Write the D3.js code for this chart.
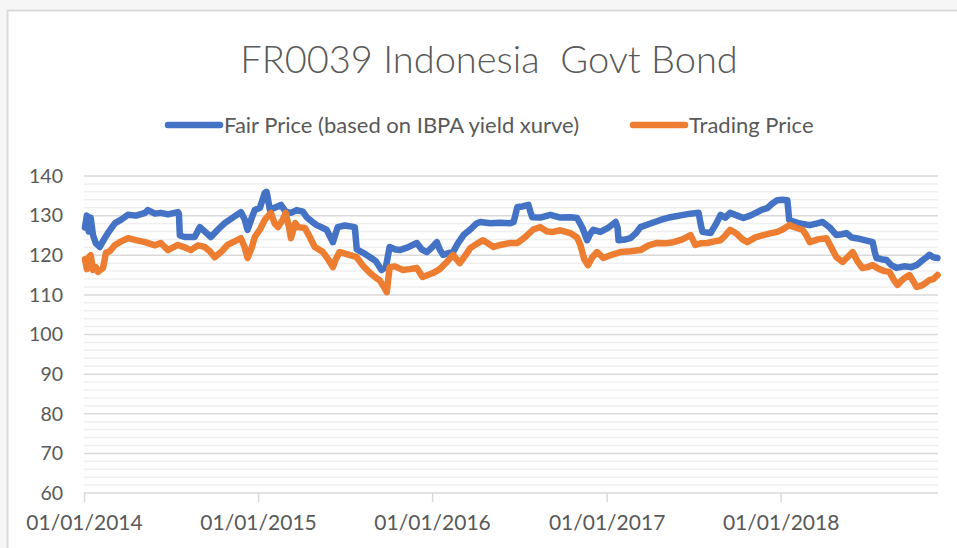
<!DOCTYPE html>
<html>
<head>
<meta charset="utf-8">
<script src="https://cdn.jsdelivr.net/npm/d3@7"></script>
<style>
  html, body { margin: 0; padding: 0; background: #f6f6f6; }
  svg { display: block; }
</style>
</head>
<body>
<div id="chart"></div>
<script>

// values
const fairDates = ["2014-01-03","2014-01-07","2014-01-11","2014-01-15","2014-01-20","2014-01-26","2014-02-03","2014-02-12","2014-02-20","2014-03-07","2014-03-20","2014-04-03","2014-04-20","2014-05-09","2014-05-15","2014-05-30","2014-06-11","2014-06-26","2014-07-17","2014-07-19","2014-07-21","2014-07-31","2014-08-21","2014-09-01","2014-09-11","2014-09-24","2014-10-09","2014-10-23","2014-11-09","2014-11-26","2014-12-04","2014-12-10","2014-12-19","2014-12-25",
  "2015-01-05","2015-01-15","2015-01-19","2015-01-26","2015-02-05","2015-02-18","2015-02-28","2015-03-11","2015-03-23","2015-04-05","2015-04-13","2015-04-24","2015-05-04","2015-05-15","2015-05-25","2015-06-07","2015-06-17","2015-07-02","2015-07-23","2015-07-27","2015-08-11","2015-08-24","2015-09-05","2015-09-17","2015-09-26","2015-10-04","2015-10-15","2015-10-25","2015-11-11","2015-11-30","2015-12-10","2015-12-21",
  "2016-01-01","2016-01-11","2016-01-17","2016-01-24","2016-02-03","2016-02-14","2016-02-24","2016-03-07","2016-03-21","2016-04-03","2016-04-11","2016-05-02","2016-05-23","2016-06-13","2016-06-20","2016-06-28","2016-07-08","2016-07-21","2016-07-25","2016-07-29","2016-08-15","2016-09-05","2016-09-26","2016-10-17","2016-10-31","2016-11-11","2016-11-21","2016-11-28","2016-12-04","2016-12-19",
  "2017-01-05","2017-01-20","2017-01-24","2017-01-26","2017-02-10","2017-02-20","2017-03-03","2017-03-13","2017-04-03","2017-04-24","2017-05-15","2017-06-11","2017-06-26","2017-07-13","2017-07-17","2017-07-21","2017-08-07","2017-08-19","2017-08-28","2017-09-07","2017-09-17","2017-10-02","2017-10-15","2017-10-29","2017-11-13","2017-11-23","2017-12-04","2017-12-14","2017-12-25",
  "2018-01-05","2018-01-15","2018-01-19","2018-02-10","2018-03-03","2018-03-17","2018-03-30","2018-04-14","2018-04-28","2018-05-09","2018-05-19","2018-05-30","2018-06-09","2018-06-26","2018-07-13","2018-07-17","2018-07-21","2018-07-31","2018-08-11","2018-08-21","2018-09-01","2018-09-17","2018-10-02","2018-10-13","2018-10-23","2018-11-03","2018-11-09","2018-11-17","2018-11-26"];
const fairValues = [127,130,126,129.5,125,123,122.1,124,125.6,128.1,129,130.2,130,130.7,131.4,130.5,130.7,130.3,130.9,130.5,125,124.6,124.6,127.1,126,124.6,126.5,128.1,129.5,130.9,129,126.4,129.5,131.4,
  132,135.7,136,131.4,132,132.7,131,130.7,131.4,131,129.6,128.5,127.6,127,126.4,123.3,127.1,127.5,127.1,121.5,120.5,119.5,118.5,116.3,117,122.1,121.5,121.3,122,123.1,121.5,120.8,
  122,123.3,121.5,120.1,120.5,120.8,123,125.1,126.5,128,128.4,128.1,128.2,128.1,128.4,132.2,132.3,132.7,131,129.6,129.5,130.2,129.5,129.6,129.4,127,123.8,125.5,126.4,125.9,
  127,128.4,127,123.8,124,124.3,125.5,127.1,128,128.9,129.6,130.2,130.5,130.7,128,125.9,125.6,128,130.2,129.5,130.7,130,129.4,130,130.9,131.5,131.9,133,133.9,
  134,133.9,128.9,128,127.6,128,128.4,127,125.1,125.3,125.6,124.5,124.3,123.8,123.3,121,119.3,119,118.8,117.5,116.8,117.2,117,117.5,118.5,119.5,120.1,119.5,119.3];

const tradeDates = ["2014-01-03","2014-01-07","2014-01-11","2014-01-15","2014-01-20","2014-01-26","2014-01-30","2014-02-10","2014-02-16","2014-02-24","2014-03-07","2014-03-20","2014-04-03","2014-04-20","2014-05-09","2014-05-30","2014-06-11","2014-06-26","2014-07-17","2014-07-31","2014-08-13","2014-08-28","2014-09-11","2014-09-22","2014-10-02","2014-10-17","2014-10-29","2014-11-13","2014-11-26","2014-12-04","2014-12-10","2014-12-19","2014-12-25",
  "2015-01-05","2015-01-15","2015-01-28","2015-02-05","2015-02-12","2015-02-22","2015-02-28","2015-03-07","2015-03-11","2015-03-20","2015-03-26","2015-04-09","2015-04-20","2015-04-30","2015-05-17","2015-05-28","2015-06-07","2015-06-13","2015-06-21","2015-07-08","2015-07-27","2015-08-08","2015-08-24","2015-09-03","2015-09-13","2015-09-22","2015-09-28","2015-10-04","2015-10-15","2015-10-31","2015-11-15","2015-11-30","2015-12-12","2015-12-23",
  "2016-01-03","2016-01-17","2016-02-01","2016-02-14","2016-02-28","2016-03-11","2016-03-21","2016-04-05","2016-04-17","2016-05-09","2016-05-23","2016-06-13","2016-06-28","2016-07-08","2016-07-19","2016-07-31","2016-08-15","2016-08-29","2016-09-11","2016-09-26","2016-10-17","2016-10-31","2016-11-07","2016-11-15","2016-11-23","2016-12-02","2016-12-12","2016-12-25",
  "2017-01-09","2017-01-30","2017-02-20","2017-03-13","2017-03-30","2017-04-17","2017-05-04","2017-05-21","2017-06-09","2017-06-26","2017-07-06","2017-07-17","2017-07-31","2017-08-15","2017-08-28","2017-09-07","2017-09-17","2017-09-30","2017-10-13","2017-10-23","2017-11-09","2017-11-26","2017-12-10","2017-12-25",
  "2018-01-05","2018-01-19","2018-02-01","2018-02-16","2018-02-24","2018-03-03","2018-03-20","2018-04-07","2018-04-17","2018-04-28","2018-05-11","2018-05-21","2018-06-01","2018-06-11","2018-06-21","2018-07-02","2018-07-13","2018-07-27","2018-08-07","2018-08-17","2018-08-28","2018-09-03","2018-09-15","2018-09-28","2018-10-06","2018-10-13","2018-10-23","2018-11-01","2018-11-09","2018-11-17","2018-11-26"];
const tradeValues = [119,116.5,119.5,120,116.3,117,115.8,116.8,120.6,121,122.6,123.5,124.3,123.8,123.3,122.5,123.1,121.3,122.6,122,121.3,122.5,122.1,121,119.5,121,122.6,123.5,124.3,122,119.3,122,124.6,
  126.5,128.9,130.7,128,127.1,129,130.7,127,124.3,128.1,127.1,126.9,124.5,122.1,120.8,119,117,119,120.8,120.2,119.5,117.5,115.5,114.5,113.7,112,110.7,117,117.2,116.3,116.5,116.8,114.5,115,
  115.5,116.5,118.3,120.1,118,120,121.8,123,123.8,122.1,122.6,123.1,123.1,124,125.1,126.5,127.1,126,125.9,126.3,125.6,124.5,122.6,119,117.5,119.5,120.8,119.3,
  120,120.8,121,121.3,122.5,123.1,123,123.3,124,125.1,122.6,123,123.1,123.5,123.8,125,126.4,125.5,124,123.3,124.5,125.1,125.5,125.9,
  126.5,127.6,127,126.4,125,123.3,124,124.3,122,119.5,118.3,119.5,120.8,118.5,116.8,117,117.5,116.5,116,115.8,113.5,112.5,114,115,113.5,112,112.3,113,113.7,114,115];

const seriesNames = ["Fair Price (based on IBPA yield xurve)", "Trading Price"];
const seriesColors = ["#4472C4", "#ED7D31"];
const yearTicks = ["2014-01-01","2015-01-01","2016-01-01","2017-01-01","2018-01-01"];
const dateEnd = "2018-11-27";

const width = 957, height = 548;
const margin = {top: 176, right: 19, bottom: 55, left: 84};
const font = "Lato, 'Open Sans', sans-serif";
const textColor = "#595959";

const parse = d3.timeParse("%Y-%m-%d");

const svg = d3.select("#chart")
    .append("svg")
    .attr("width", width)
    .attr("height", height);

// chart frame (white card with light border)
svg.append("rect")
    .attr("x", 7.5)
    .attr("y", 10.5)
    .attr("width", width + 10)
    .attr("height", height + 10)
    .attr("fill", "#ffffff")
    .attr("stroke", "#d9d9d9")
    .attr("stroke-width", 2);

let xScale = d3.scaleTime()
    .domain([parse(yearTicks[0]), parse(dateEnd)])
    .range([margin.left, width - margin.right]);

let yScale = d3.scaleLinear()
    .domain([60, 140])
    .range([height - margin.bottom, margin.top]);

// minor gridlines every 2
svg.append("g")
    .selectAll("line")
    .data(d3.range(62, 141, 2).filter(v => v % 10 !== 0))
    .enter()
    .append("line")
    .attr("x1", margin.left)
    .attr("x2", width - margin.right)
    .attr("y1", d => yScale(d))
    .attr("y2", d => yScale(d))
    .attr("stroke", "#efefef")
    .attr("stroke-width", 1.5);

// major gridlines every 10
svg.append("g")
    .selectAll("line")
    .data(d3.range(70, 141, 10))
    .enter()
    .append("line")
    .attr("x1", margin.left)
    .attr("x2", width - margin.right)
    .attr("y1", d => yScale(d))
    .attr("y2", d => yScale(d))
    .attr("stroke", "#d9d9d9")
    .attr("stroke-width", 1.5);

// y axis labels
const yAxis = svg.append("g")
    .attr("transform", `translate(${margin.left}, 0)`)
    .call(d3.axisLeft(yScale).tickValues(d3.range(60, 141, 10)).tickSize(0).tickPadding(21));
yAxis.select(".domain").remove();
yAxis.selectAll("text")
    .attr("font-family", font)
    .attr("font-size", "19.5px")
    .attr("fill", textColor);

// x axis
const xAxis = svg.append("g")
    .attr("transform", `translate(0, ${height - margin.bottom})`)
    .call(d3.axisBottom(xScale)
        .tickValues(yearTicks.map(parse))
        .tickSize(9)
        .tickPadding(13)
        .tickFormat(d3.timeFormat("%d/%m/%Y")));
xAxis.select(".domain")
    .attr("d", `M${margin.left},0H${width - margin.right}`)
    .attr("stroke", "#d9d9d9")
    .attr("stroke-width", 1.5);
xAxis.selectAll(".tick line")
    .attr("stroke", "#d9d9d9")
    .attr("stroke-width", 1.5);
xAxis.selectAll("text")
    .attr("font-family", font)
    .attr("font-size", "21px")
    .attr("fill", textColor);

// series lines
const line = d3.line()
    .x(d => xScale(d.date))
    .y(d => yScale(d.value));

const series = [
    fairDates.map((d, i) => ({date: parse(d), value: fairValues[i]})),
    tradeDates.map((d, i) => ({date: parse(d), value: tradeValues[i]}))
];

svg.append("g")
    .selectAll("path")
    .data(series)
    .enter()
    .append("path")
    .attr("d", line)
    .attr("fill", "none")
    .attr("stroke", (d, i) => seriesColors[i])
    .attr("stroke-width", 6.5)
    .attr("stroke-linejoin", "round")
    .attr("stroke-linecap", "round");

// title
svg.append("text")
    .attr("x", 489)
    .attr("y", 73)
    .attr("text-anchor", "middle")
    .attr("font-family", font)
    .attr("font-weight", 300)
    .attr("font-size", "38px")
    .attr("fill", textColor)
    .style("white-space", "pre")
    .text("FR0039 Indonesia  Govt Bond");

// legend
const legendX = [165, 630];
const legend = svg.append("g")
    .selectAll("g")
    .data(seriesNames)
    .enter()
    .append("g")
    .attr("transform", (d, i) => `translate(${legendX[i]}, 125)`);

legend.append("line")
    .attr("x1", 3)
    .attr("x2", 55)
    .attr("stroke", (d, i) => seriesColors[i])
    .attr("stroke-width", 6.5)
    .attr("stroke-linecap", "round");

legend.append("text")
    .attr("x", 59)
    .attr("y", 7.5)
    .attr("font-family", font)
    .attr("font-size", "22px")
    .attr("fill", textColor)
    .text(d => d);

</script>
</body>
</html>
